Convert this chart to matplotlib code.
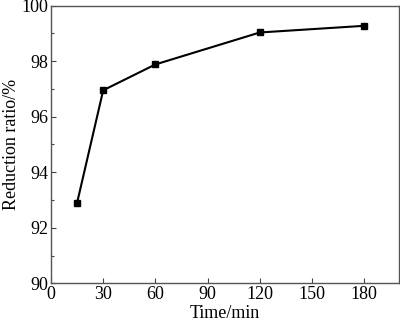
import matplotlib
matplotlib.use("Agg")
import matplotlib.pyplot as plt
from matplotlib.ticker import MultipleLocator

# reduction ratio vs. time
time_min = [15, 30, 60, 120, 180]
reduction_ratio = [92.9, 96.95, 97.88, 99.03, 99.27]

plt.rcParams['font.family'] = ['Liberation Serif', 'DejaVu Serif']
plt.rcParams['font.size'] = 13

fig = plt.figure(figsize=(4, 3.25), dpi=100)
ax = fig.add_axes([0.1275, 0.128, 0.87, 0.855])

ax.plot(time_min, reduction_ratio, color='black', lw=1.5,
        marker='s', markersize=5, markerfacecolor='black')

ax.set_xlim(0, 200)
ax.set_ylim(90, 100)
ax.set_xticks([0, 30, 60, 90, 120, 150, 180])
ax.yaxis.set_major_locator(MultipleLocator(2))
ax.yaxis.set_minor_locator(MultipleLocator(1))
ax.tick_params(direction='in', length=3.5, width=0.8, color='#444444', pad=2)
ax.tick_params(which='minor', direction='in', length=2.5, width=0.8, color='#444444')
for sp in ax.spines.values():
    sp.set_color('#555555')
    sp.set_linewidth(1.0)

ax.set_xlabel('Time/min', labelpad=1)
ax.set_ylabel('Reduction ratio/%', labelpad=1)

fig.savefig('out.png', dpi=100)
